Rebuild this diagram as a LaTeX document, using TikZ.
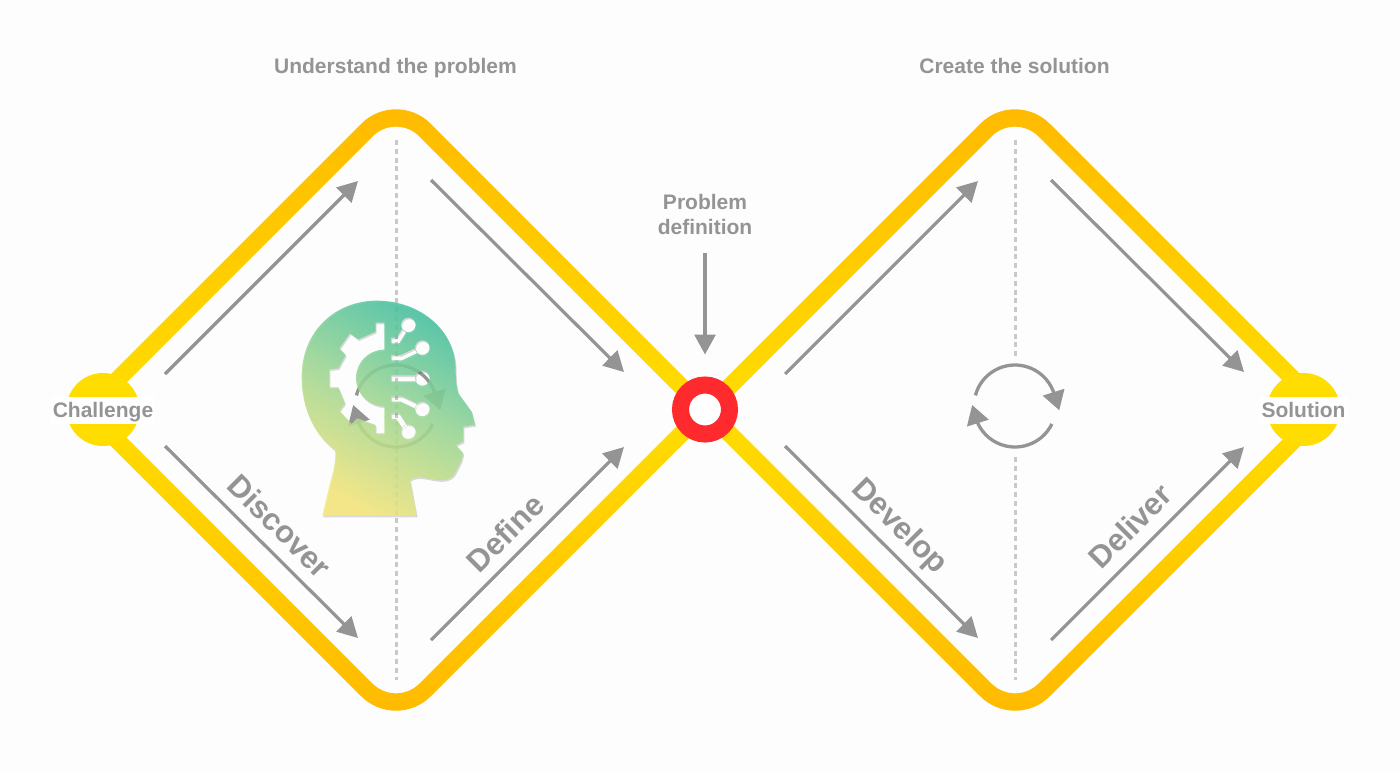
\documentclass[tikz,border=0pt]{standalone}
\usepackage{xcolor}
\usepackage{fontspec}
\setsansfont{Liberation Sans}
\usetikzlibrary{arrows.meta,positioning,calc}
\definecolor{paper}{HTML}{FDFDFD}
\definecolor{ash}{HTML}{949494}
\definecolor{dashgrey}{HTML}{C9C9C9}
\definecolor{amber}{HTML}{FFB800}
\definecolor{sun}{HTML}{FFDD00}
\definecolor{signal}{HTML}{FF2A2D}
\definecolor{teal}{HTML}{45C3A2}
\definecolor{leaf}{HTML}{A3DB95}
\definecolor{straw}{HTML}{F7E97C}
\tikzset{
  phasetitle/.style={font=\fontsize{21}{25}\selectfont\sffamily\bfseries, text=ash, align=center, inner sep=0pt},
  phaselabel/.style={font=\fontsize{31}{36}\selectfont\sffamily\bfseries, text=ash, inner sep=0pt, rotate=#1},
  endcap/.style={circle, fill=sun, minimum size=73pt, inner sep=0pt, outer sep=0pt},
  endlabel/.style={phasetitle, fill=white, minimum height=27pt, text height=16pt, text depth=3pt, inner xsep=2pt},
  flowarrow/.style={-{Triangle[length=20pt,width=21pt]}, line width=3.2pt, color=ash},
  cyclearrow/.style={-{Triangle[length=19pt,width=22pt]}, line width=3.3pt, color=ash},
  guide/.style={line width=3pt, color=dashgrey, dash pattern=on 5pt off 3.8pt},
  track/.style={even odd rule, top color=amber, bottom color=amber, middle color=sun},
}
\newcommand{\headshape}{
  (127,707) -- (150,610) .. controls (165,560) and (168,530) .. (165,510)
  .. controls (105,465) and (65,390) .. (65,290) .. controls (65,150) and (170,62) .. (290,62)
  .. controls (420,62) and (527,150) .. (527,270) .. controls (527,300) and (530,325) .. (535,340)
  -- (575,395) -- (585,435) -- (550,440) -- (550,485) -- (528,495) -- (550,520) -- (545,540) -- (525,580)
  .. controls (515,600) and (490,602) .. (470,600) .. controls (440,595) and (410,585) .. (390,600)
  -- (410,707) -- cycle
  % gear
  (287,128) -- (313,128) -- (313,209) .. controls (266,209) and (228,247) .. (228,294)
  .. controls (228,341) and (266,379) .. (313,379) -- (313,460) -- (287,460) -- (287,435)
  -- (232,415) -- (215,432) -- (178,392) -- (195,370) -- (175,322) -- (148,322) -- (148,268)
  -- (175,265) -- (197,225) -- (178,205) -- (210,160) -- (235,178) -- (287,155) -- cycle
  % circuit
  (333,173) -- (349,173) -- (366.4,146.9) -- (379.4,156.3) -- (358,190) -- (333,190) -- cycle
  (385,135) circle (22)
  (333,225) -- (362,225) -- (405,204.8) -- (412,219.2) -- (366,241) -- (333,241) -- cycle
  (427,203) circle (22)
  (333,286) -- (407,286) -- (407,304) -- (333,304) -- cycle
  (427,295) circle (22)
  (333,365) -- (362,365) -- (405,385.2) -- (412,370.8) -- (366,349) -- (333,349) -- cycle
  (427,387) circle (22)
  (333,417) -- (349,417) -- (366.4,443.1) -- (379.4,433.7) -- (358,400) -- (333,400) -- cycle
  (385,455) circle (22)
}
\begin{document}
\begin{tikzpicture}[x=1pt,y=-1pt]
  \useasboundingbox[fill=paper] (0,0) rectangle (1400,772);

  % tracks
  \shade[track] (75,410) [rounded corners=49pt] -- (396,89) [sharp corners] -- (717,410) [rounded corners=49pt] -- (396,731) [sharp corners] -- cycle
    (99,410) [rounded corners=33pt] -- (396,113) [sharp corners] -- (693,410) [rounded corners=33pt] -- (396,707) [sharp corners] -- cycle;
  \shade[track] (694,410) [rounded corners=49pt] -- (1015,89) [sharp corners] -- (1336,410) [rounded corners=49pt] -- (1015,731) [sharp corners] -- cycle
    (718,410) [rounded corners=33pt] -- (1015,113) [sharp corners] -- (1312,410) [rounded corners=33pt] -- (1015,707) [sharp corners] -- cycle;

  % guides
  \coordinate (guideAtop) at (396,140);
  \coordinate (guideAbot) at (396,680);
  \coordinate (guideBtop) at (1015,140);
  \coordinate (guideBmid) at (1015,357);
  \coordinate (guideCmid) at (1015,457);
  \coordinate (guideBbot) at (1015,680);
  \draw[guide] (guideAtop) -- (guideAbot);
  \draw[guide] (guideBtop) -- (guideBmid);
  \draw[guide] (guideCmid) -- (guideBbot);

  % cycles
  \coordinate (cycleA) at (396,406);
  \coordinate (cycleB) at (1015,406);
  \draw[cyclearrow] ($(cycleA)+(-165:41)$) arc (-165:-21:41) -- ++(6,19);
  \draw[cyclearrow] ($(cycleA)+(26:41)$) arc (26:154:41) -- ++(-6,-19);
  \draw[cyclearrow] ($(cycleB)+(-165:41)$) arc (-165:-21:41) -- ++(6,19);
  \draw[cyclearrow] ($(cycleB)+(26:41)$) arc (26:154:41) -- ++(-6,-19);

  % head
  \begin{scope}[shift={(280,280)},scale=1/3]
    \fill[black, fill opacity=0.14, even odd rule, shift={(3,5)}] \headshape;
    \shade[even odd rule, fill opacity=0.86, top color=teal, bottom color=straw, middle color=leaf, shading angle=-28] \headshape;
  \end{scope}

  % ends and centre
  \node[endcap] (challengecap) at (103,409.5) {};
  \node[endcap] (solutioncap) at (1303.5,409.5) {};
  \node[endlabel] (challenge) at (103,410.5) {Challenge};
  \node[endlabel] (solution) at (1303.5,410.5) {Solution};
  \node[circle, draw=signal, line width=17pt, fill=white, minimum size=49pt, inner sep=0pt] (pivot) at (705,409.5) {};

  % titles
  \node[phasetitle] (understand) at (395.5,68) {Understand the problem};
  \node[phasetitle] (create) at (1014.5,66) {Create the solution};
  \node[phasetitle] (problem) at (705,214.5) {Problem\\[0pt]definition};
  \draw[flowarrow, shorten <=18pt, shorten >=22pt] (problem.south) -- (pivot.north);

  % flows
  \coordinate (discoverUpS) at (165,374);
  \coordinate (discoverUpE) at (358,181);
  \coordinate (defineDnS) at (431,180);
  \coordinate (defineDnE) at (624,372);
  \coordinate (discoverDnS) at (165,446);
  \coordinate (discoverDnE) at (358,638);
  \coordinate (defineUpS) at (431,640);
  \coordinate (defineUpE) at (624,447);
  \coordinate (developUpS) at (785,374);
  \coordinate (developUpE) at (978,181);
  \coordinate (deliverDnS) at (1051,180);
  \coordinate (deliverDnE) at (1244,372);
  \coordinate (developDnS) at (785,446);
  \coordinate (developDnE) at (978,638);
  \coordinate (deliverUpS) at (1051,640);
  \coordinate (deliverUpE) at (1244,447);
  \draw[flowarrow] (discoverUpS) -- (discoverUpE);
  \draw[flowarrow] (defineDnS) -- (defineDnE);
  \draw[flowarrow] (discoverDnS) -- (discoverDnE);
  \draw[flowarrow] (defineUpS) -- (defineUpE);
  \draw[flowarrow] (developUpS) -- (developUpE);
  \draw[flowarrow] (deliverDnS) -- (deliverDnE);
  \draw[flowarrow] (developDnS) -- (developDnE);
  \draw[flowarrow] (deliverUpS) -- (deliverUpE);

  % phases
  \node[phaselabel=-45] (discover) at (280,526) {Discover};
  \node[phaselabel=45] (define) at (505,533) {Define};
  \node[phaselabel=-45] (develop) at (899,527) {Develop};
  \node[phaselabel=45] (deliver) at (1130,526) {Deliver};
\end{tikzpicture}
\end{document}
